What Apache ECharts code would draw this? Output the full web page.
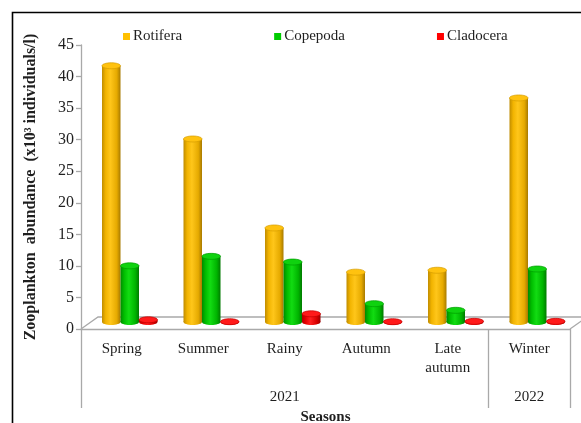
<!DOCTYPE html>
<html>
<head>
<meta charset="utf-8">
<script src="https://cdn.jsdelivr.net/npm/echarts@6/dist/echarts.min.js"></script>
<style>
  html, body { margin: 0; padding: 0; background: #fff; }
  #chart { width: 581px; height: 423px; }
</style>
</head>
<body>
<div id="chart"></div>
<script>
// Seasonal zooplankton abundance (x10^3 individuals/l)
const categories = ['Spring', 'Summer', 'Rainy', 'Autumn', 'Late\nautumn', 'Winter'];
const years = ['2021', '2022'];
const yearCounts = [5, 1];            // seasons per year group
const rotifera  = [40.6, 29.0, 14.9, 7.9, 8.2, 35.5];
const copepoda  = [8.9, 10.4, 9.5, 2.9, 1.85, 8.4];
const cladocera = [0.35, 0.05, 1.3, 0.05, 0.1, 0.1];
const yTicks = { min: 0, max: 45, interval: 5 };

const FONT = 'Liberation Serif, Times New Roman, serif';
const AXIS_GREY = '#a9a9a9';
const TEXT = '#1f1f1f';
const BAR_RATIO = 0.227;
const DEPTH = [17, -12];               // floor depth in pixels (x, y)

// year group boundaries / label centres on a 0..N value axis
const yearBounds = [0];
yearCounts.forEach(c => yearBounds.push(yearBounds[yearBounds.length - 1] + c));
const yearCentres = years.map((_, i) => (yearBounds[i] + yearBounds[i + 1]) / 2);

const palettes = [
  { legend: '#FFC000', body: ['#C08C00', '#F2B400', '#FFC61A', '#E6AA00', '#A87A00'], cap: '#FFC20F', rim: '#D49C00' },
  { legend: '#00CC00', body: ['#008A00', '#00BE00', '#12DC12', '#00B400', '#007A00'], cap: '#0FD20F', rim: '#009C00' },
  { legend: '#FF0000', body: ['#B00000', '#E80000', '#FF2020', '#D80000', '#9A0000'], cap: '#FF1A1A', rim: '#C00000' }
];

function grad(c) {
  return new echarts.graphic.LinearGradient(0, 0, 1, 0, [
    { offset: 0, color: c[0] }, { offset: 0.2, color: c[1] },
    { offset: 0.45, color: c[2] }, { offset: 0.8, color: c[3] },
    { offset: 1, color: c[4] }
  ]);
}

function cylinder(i) {
  const p = palettes[i];
  return function (params, api) {
    const idx = api.value(0), v = api.value(1);
    const top = api.coord([idx, v]);
    const base = api.coord([idx, 0]);
    const band = api.size([1, 0])[0];
    const w = band * BAR_RATIO;
    const cx = top[0] + (i - 1) * w;
    const rx = w / 2, ry = 3;
    return {
      type: 'group',
      children: [
        { type: 'ellipse', shape: { cx: cx, cy: base[1], rx: rx, ry: ry }, style: { fill: grad(p.body) } },
        { type: 'rect', shape: { x: cx - rx, y: top[1], width: w, height: Math.max(0, base[1] - top[1]) }, style: { fill: grad(p.body) } },
        { type: 'ellipse', shape: { cx: cx, cy: top[1], rx: rx, ry: ry }, style: { fill: p.cap, stroke: p.rim, lineWidth: 0.7 } }
      ]
    };
  };
}

const seriesData = [rotifera, copepoda, cladocera];
const names = ['Rotifera', 'Copepoda', 'Cladocera'];

const chart = echarts.init(document.getElementById('chart'), null, { renderer: 'canvas' });

chart.setOption({
  backgroundColor: '#fff',
  animation: false,
  textStyle: { fontFamily: FONT },
  legend: {
    data: names,
    left: 118, top: 24,
    icon: 'rect', itemWidth: 7, itemHeight: 7, itemGap: 92,
    textStyle: { fontFamily: FONT, fontSize: 15, color: TEXT, padding: [0, 0, 0, -2] }
  },
  grid: [
    { left: 81, right: 11, top: 45, bottom: 94, containLabel: false, outerBoundsMode: 'none' },   // front axes
    { left: 89, right: 3, top: 38, bottom: 101, containLabel: false, outerBoundsMode: 'none' }    // column plane (depth-shifted)
  ],
  xAxis: [
    {
      type: 'category', gridIndex: 0, position: 'bottom', data: categories,
      axisLine: { lineStyle: { color: AXIS_GREY, width: 1.3 } },
      axisTick: { length: 49, lineStyle: { color: AXIS_GREY, width: 1.3 } },
      axisLabel: { fontFamily: FONT, fontSize: 15, color: TEXT, margin: 11, lineHeight: 19, interval: 0 }
    },
    {
      type: 'value', gridIndex: 0, position: 'bottom', offset: 0,
      min: 0, max: yearBounds[yearBounds.length - 1],
      axisLine: { show: false },
      splitLine: { show: false },
      axisTick: { show: true, length: 79, customValues: yearBounds, lineStyle: { color: AXIS_GREY, width: 1.3 } },
      axisLabel: {
        fontFamily: FONT, fontSize: 15, color: TEXT, margin: 61,
        customValues: yearCentres,
        formatter: v => years[yearCentres.indexOf(v)] || ''
      },
      name: 'Seasons', nameLocation: 'middle', nameGap: 80,
      nameTextStyle: { fontFamily: FONT, fontSize: 15, fontWeight: 'bold', color: TEXT }
    },
    { type: 'category', gridIndex: 1, data: categories, show: false }
  ],
  yAxis: [
    {
      type: 'value', gridIndex: 0, min: yTicks.min, max: yTicks.max, interval: yTicks.interval,
      axisLine: { show: true, lineStyle: { color: AXIS_GREY, width: 1.3 } },
      axisTick: { show: true, length: 5, lineStyle: { color: AXIS_GREY, width: 1.3 } },
      splitLine: { show: false },
      axisLabel: { fontFamily: FONT, fontSize: 16, color: TEXT, margin: 7 },
      name: 'Zooplankton  abundance  (x10³ individuals/l)', nameLocation: 'middle', nameGap: 42,
      nameTextStyle: { fontFamily: FONT, fontSize: 16, fontWeight: 'bold', color: TEXT }
    },
    { type: 'value', gridIndex: 1, min: yTicks.min, max: yTicks.max, show: false }
  ],
  series: seriesData.map((d, i) => ({
    name: names[i], type: 'custom', xAxisIndex: 2, yAxisIndex: 1,
    itemStyle: { color: palettes[i].legend },
    renderItem: cylinder(i),
    encode: { x: 0, y: 1 },
    data: d.map((v, k) => [k, v]),
    z: 3
  }))
});

const x0 = chart.convertToPixel({ xAxisIndex: 1 }, yearBounds[0]);
const x1 = chart.convertToPixel({ xAxisIndex: 1 }, yearBounds[yearBounds.length - 1]);
const y0 = chart.convertToPixel({ yAxisIndex: 0 }, 0);
const floorStyle = { stroke: AXIS_GREY, lineWidth: 1.3, fill: null };
chart.setOption({
  graphic: [
    { type: 'rect', z: 0, shape: { x: 12.5, y: 12.5, width: 700, height: 600 }, style: { fill: null, stroke: '#000', lineWidth: 1.6 } },
    { type: 'polyline', z: 1, shape: { points: [[x0, y0], [x0 + DEPTH[0], y0 + DEPTH[1]], [x1 + DEPTH[0] + 20, y0 + DEPTH[1]]] }, style: floorStyle },
    { type: 'line', z: 1, shape: { x1: x1, y1: y0, x2: x1 + DEPTH[0], y2: y0 + DEPTH[1] }, style: floorStyle }
  ]
});
</script>
</body>
</html>
